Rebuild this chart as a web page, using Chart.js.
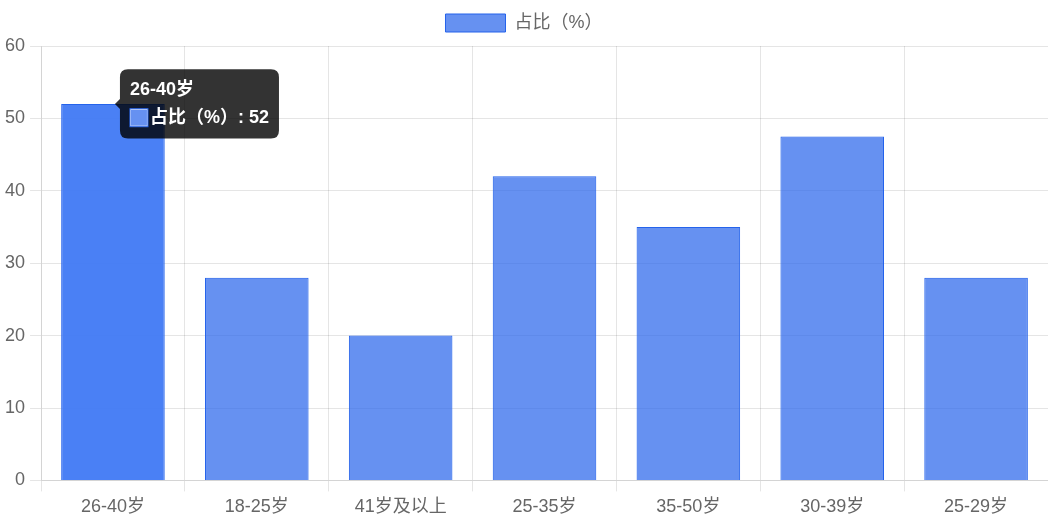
<!DOCTYPE html>
<html>
<head>
<meta charset="utf-8">
<script src="https://cdn.jsdelivr.net/npm/chart.js@4/dist/chart.umd.min.js"></script>
<style>
  html, body { margin: 0; padding: 0; background: #fff; }
  #wrap { width: 1048px; height: 524px; }
</style>
</head>
<body>
<div id="wrap"><canvas id="ageChart"></canvas></div>
<script>
// age groups and share values
var categories = ['26-40岁', '18-25岁', '41岁及以上', '25-35岁', '35-50岁', '30-39岁', '25-29岁'];
var shareValues = [52, 28, 20, 42, 35, 47.5, 28];
var seriesLabel = '占比（%）';
var yTicks = [0, 10, 20, 30, 40, 50, 60];

Chart.defaults.font.family = '"Liberation Sans", Arial, "Noto Sans CJK SC", sans-serif';
Chart.defaults.color = '#666';

var ctx = document.getElementById('ageChart').getContext('2d');
var ageChart = new Chart(ctx, {
    type: 'bar',
    data: {
        labels: categories,
        datasets: [{
            label: seriesLabel,
            data: shareValues,
            backgroundColor: 'rgba(37, 99, 235, 0.7)',
            borderColor: '#2563eb',
            borderWidth: 1,
            hoverBackgroundColor: 'rgba(60, 118, 244, 0.93)',
            hoverBorderColor: '#2563eb'
        }]
    },
    options: {
        responsive: true,
        maintainAspectRatio: false,
        animation: false,
        layout: { padding: { bottom: 1 } },
        plugins: {
            legend: {
                labels: {
                    boxWidth: 60,
                    padding: 14,
                    font: { size: 18 }
                }
            },
            tooltip: {
                backgroundColor: 'rgba(0, 0, 0, 0.8)',
                titleFont: { size: 18, weight: 'bold' },
                bodyFont: { size: 18, weight: 'bold' },
                padding: 10,
                cornerRadius: 8
            }
        },
        scales: {
            x: {
                ticks: { font: { size: 18 }, padding: 5 },
                grid: { color: 'rgba(0, 0, 0, 0.1)', tickLength: 11 },
                border: { color: '#d4d4d4' }
            },
            y: {
                min: 0,
                max: 60,
                afterBuildTicks: function (axis) {
                    axis.ticks = yTicks.map(function (v) { return { value: v }; });
                },
                ticks: { font: { size: 18 }, padding: 5 },
                grid: { color: 'rgba(0, 0, 0, 0.1)', tickLength: 11 },
                border: { color: '#d4d4d4' }
            }
        }
    }
});

// a bit more room under the legend
var legendFit = ageChart.legend.fit;
ageChart.legend.fit = function () {
    legendFit.call(this);
    this.height += 4;
};

// show the tooltip on the first bar like the reference
ageChart.update();
var active = [{ datasetIndex: 0, index: 0 }];
var bar = ageChart.getDatasetMeta(0).data[0];
ageChart.setActiveElements(active);
ageChart.tooltip.setActiveElements(active, { x: bar.x, y: bar.y });
ageChart.update();
</script>
</body>
</html>
